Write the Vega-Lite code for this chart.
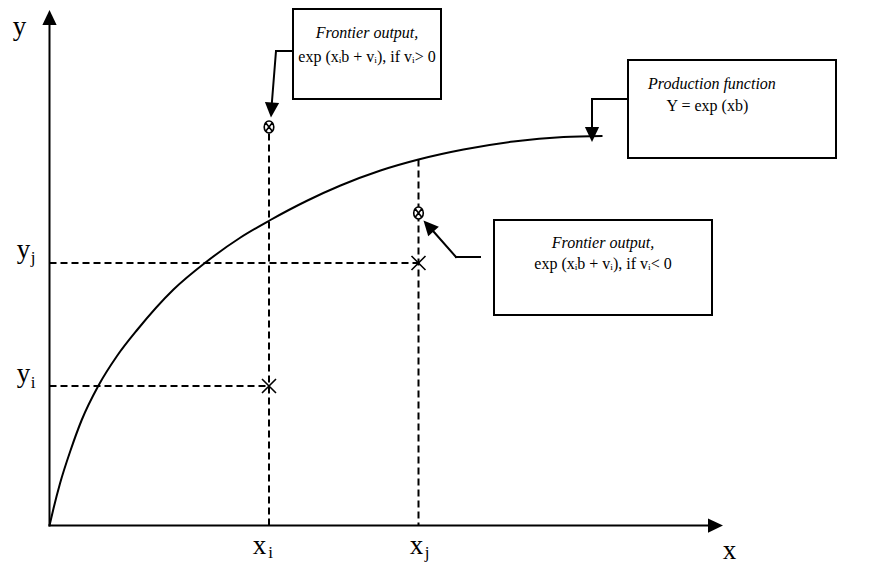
{
  "$schema": "https://vega.github.io/schema/vega-lite/v6.json",
  "width": 873,
  "height": 565,
  "autosize": {"type": "fit", "contains": "padding"},
  "padding": 0,
  "background": "white",
  "config": {"view": {"stroke": null}},
  "datasets": {
    "curve": [
      {"u": 0, "v": 0}, {"u": 4, "v": 17}, {"u": 10.5, "v": 42}, {"u": 21, "v": 75},
      {"u": 32, "v": 105}, {"u": 49, "v": 140}, {"u": 67.5, "v": 169.5}, {"u": 88, "v": 196}, {"u": 124, "v": 236},
      {"u": 156, "v": 263}, {"u": 191, "v": 288}, {"u": 220, "v": 305}, {"u": 258, "v": 325},
      {"u": 291, "v": 340}, {"u": 331, "v": 355}, {"u": 369, "v": 366}, {"u": 414, "v": 376},
      {"u": 464, "v": 384}, {"u": 514, "v": 388.5}, {"u": 553, "v": 389.5}
    ],
    "solid": [
      {"u": 0, "v": 0, "u2": 0, "v2": 503},
      {"u": 0, "v": 0, "u2": 660, "v2": 0},
      {"u": 243.5, "v": 474.5, "u2": 226.5, "v2": 474.5},
      {"u": 226.5, "v": 474.5, "u2": 222, "v2": 418},
      {"u": 578.5, "v": 426.5, "u2": 542.5, "v2": 426.5},
      {"u": 542.5, "v": 426.5, "u2": 542.5, "v2": 396},
      {"u": 430.5, "v": 268.5, "u2": 406.5, "v2": 268.5},
      {"u": 406.5, "v": 268.5, "u2": 384, "v2": 294}
    ],
    "dashed": [
      {"u": 219.5, "v": 392, "u2": 219.5, "v2": 0},
      {"u": 369, "v": 366, "u2": 369, "v2": 0},
      {"u": 0, "v": 262.5, "u2": 369, "v2": 262.5},
      {"u": 0, "v": 139.5, "u2": 219.5, "v2": 139.5}
    ],
    "heads": [
      {"u": 0, "v": 508, "dir": 0},
      {"u": 666, "v": 0, "dir": 90},
      {"u": 222, "v": 415.5, "dir": 184},
      {"u": 542.5, "v": 391, "dir": 180},
      {"u": 379, "v": 299.5, "dir": 318}
    ],
    "otimes": [{"u": 219.5, "v": 398.5}, {"u": 369, "v": 312.5}],
    "cross": [{"u": 219.5, "v": 139.5}, {"u": 369, "v": 262.5}],
    "boxes": [
      {"u": 243.5, "u2": 391.5, "v": 516.5, "v2": 426.5},
      {"u": 578.5, "u2": 786.5, "v": 465.5, "v2": 367.5},
      {"u": 444.5, "u2": 662.5, "v": 305.5, "v2": 210.5}
    ],
    "labels": [
      {"u": -30, "v": 490.5, "t": "y"},
      {"u": 680, "v": -33.5, "t": "x"},
      {"u": 210, "v": -28.5, "t": "x"},
      {"u": 367, "v": -28.5, "t": "x"},
      {"u": -26, "v": 143.5, "t": "y"},
      {"u": -26, "v": 267.5, "t": "y"}
    ],
    "subs": [
      {"u": 221, "v": -32.5, "t": "i"},
      {"u": 377.5, "v": -32.5, "t": "j"},
      {"u": -16.5, "v": 137.5, "t": "i"},
      {"u": -16.5, "v": 262.5, "t": "j"}
    ],
    "italicC": [
      {"u": 317.5, "v": 487.5, "t": "Frontier output,"},
      {"u": 553.5, "v": 277.5, "t": "Frontier output,"}
    ],
    "italicL": [{"u": 598.5, "v": 436.5, "t": "Production function"}],
    "plainC": [
      {"u": 317.5, "v": 463.5, "t": "exp (xᵢb + vᵢ), if vᵢ> 0"},
      {"u": 553.5, "v": 256.5, "t": "exp (xᵢb + vᵢ), if vᵢ< 0"}
    ],
    "plainL": [{"u": 617, "v": 415, "t": "Y = exp (xb)"}]
  },
  "encoding": {
    "x": {"field": "u", "type": "quantitative", "scale": {"domain": [-49.5, 823.5], "nice": false, "zero": false}, "axis": null},
    "y": {"field": "v", "type": "quantitative", "scale": {"domain": [-39.5, 525.5], "nice": false, "zero": false}, "axis": null}
  },
  "layer": [
    {
      "data": {"name": "boxes"},
      "mark": {"type": "rect", "fill": "white", "stroke": "black", "strokeWidth": 2},
      "encoding": {"x2": {"field": "u2"}, "y2": {"field": "v2"}}
    },
    {
      "data": {"name": "curve"},
      "mark": {"type": "line", "color": "black", "strokeWidth": 2, "interpolate": "monotone"},
      "encoding": {"order": {"field": "u", "type": "quantitative"}}
    },
    {
      "data": {"name": "solid"},
      "mark": {"type": "rule", "color": "black", "strokeWidth": 2, "strokeCap": "square"},
      "encoding": {"x2": {"field": "u2"}, "y2": {"field": "v2"}}
    },
    {
      "data": {"name": "dashed"},
      "mark": {"type": "rule", "color": "black", "strokeWidth": 2, "strokeDash": [7, 4]},
      "encoding": {"x2": {"field": "u2"}, "y2": {"field": "v2"}}
    },
    {
      "data": {"name": "heads"},
      "mark": {"type": "point", "shape": "M0,-1L0.95,1L-0.95,1Z", "size": 225, "filled": true, "fill": "black", "stroke": null, "opacity": 1},
      "encoding": {"angle": {"field": "dir", "type": "quantitative", "scale": null}}
    },
    {
      "data": {"name": "otimes"},
      "mark": {"type": "point", "shape": "M-0.8,0A0.8,1 0 1,0 0.8,0A0.8,1 0 1,0 -0.8,0M-0.55,-0.7L0.55,0.7M0.55,-0.7L-0.55,0.7", "size": 144, "filled": false, "stroke": "black", "strokeWidth": 1.6, "opacity": 1, "fill": "white", "fillOpacity": 1}
    },
    {
      "data": {"name": "cross"},
      "mark": {"type": "point", "shape": "M-1,-1L1,1M1,-1L-1,1", "size": 196, "filled": false, "stroke": "black", "strokeWidth": 1.6, "opacity": 1}
    },
    {
      "data": {"name": "labels"},
      "mark": {"type": "text", "font": "Liberation Serif", "fontSize": 27, "align": "center", "baseline": "alphabetic", "color": "black"},
      "encoding": {"text": {"field": "t"}}
    },
    {
      "data": {"name": "subs"},
      "mark": {"type": "text", "font": "Liberation Serif", "fontSize": 17, "align": "center", "baseline": "alphabetic", "color": "black"},
      "encoding": {"text": {"field": "t"}}
    },
    {
      "data": {"name": "italicC"},
      "mark": {"type": "text", "font": "Liberation Serif", "fontStyle": "italic", "fontSize": 16, "align": "center", "baseline": "alphabetic", "color": "black"},
      "encoding": {"text": {"field": "t"}}
    },
    {
      "data": {"name": "italicL"},
      "mark": {"type": "text", "font": "Liberation Serif", "fontStyle": "italic", "fontSize": 16, "align": "left", "baseline": "alphabetic", "color": "black"},
      "encoding": {"text": {"field": "t"}}
    },
    {
      "data": {"name": "plainC"},
      "mark": {"type": "text", "font": "Liberation Serif", "fontSize": 16, "align": "center", "baseline": "alphabetic", "color": "black"},
      "encoding": {"text": {"field": "t"}}
    },
    {
      "data": {"name": "plainL"},
      "mark": {"type": "text", "font": "Liberation Serif", "fontSize": 16, "align": "left", "baseline": "alphabetic", "color": "black"},
      "encoding": {"text": {"field": "t"}}
    }
  ]
}
